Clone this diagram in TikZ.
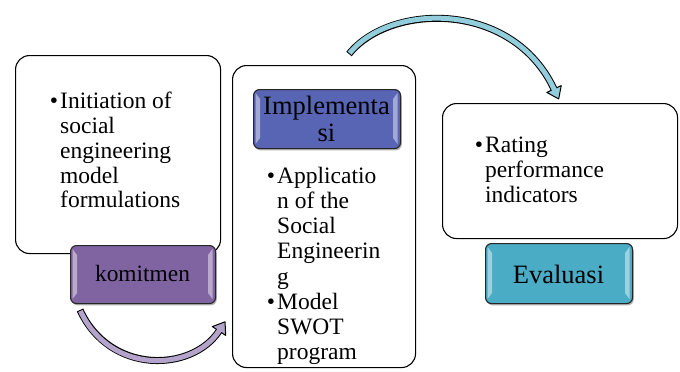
\documentclass[tikz,border=0pt]{standalone}
\usepackage{fontspec}
\setmainfont{Liberation Serif}
\usetikzlibrary{calc,shadows}
\definecolor{kom}{RGB}{128,100,162}
\definecolor{imp}{RGB}{88,100,180}
\definecolor{eva}{RGB}{75,172,198}
\definecolor{arrP}{RGB}{180,164,204}
\definecolor{arrB}{RGB}{146,205,220}
\tikzset{
  mainbox/.style={draw=black, line width=1.1pt, rounded corners=14pt, fill=white, inner sep=0pt, anchor=north west},
  lblbox/.style={draw=black!85, line width=1.1pt, rounded corners=6pt, inner sep=0pt, anchor=north west,
     drop shadow={shadow xshift=1.2pt, shadow yshift=-1.8pt, opacity=0.3, fill=black}},
  body/.style={font=\fontsize{23.5}{24.8}\selectfont, align=left, anchor=north west, inner sep=0pt},
  lbl/.style={font=\fontsize{26.5}{26.5}\selectfont, align=center, inner sep=0pt},
}
\newcommand{\hb}{\makebox[0pt][r]{\textbullet\hspace{2pt}}}
\newcommand{\bevel}[4]{% x0 y0 x1 y1
  \fill[white, opacity=0.45] (#1+2.5,#2+4) -- (#1+7,#2+10) -- (#1+7,#4-10) -- (#1+2.5,#4-4) -- cycle;
  \fill[white, opacity=0.45] (#3-2.5,#2+4) -- (#3-7,#2+10) -- (#3-7,#4-10) -- (#3-2.5,#4-4) -- cycle;
}
\newcommand{\bandarrow}[5]{%
  \draw[black, line width=7pt] (#1) .. controls (#2) and (#3) .. (#4);
  \coordinate (dirpt) at ($(#4)!-1!(#3)$);
  \coordinate (tippt) at ($(#4)!11pt!(dirpt)$);
  \coordinate (wlpt) at ($(#4)!8pt!90:(dirpt)$);
  \coordinate (wrpt) at ($(#4)!8pt!-90:(dirpt)$);
  \draw[black, line width=1pt, fill=#5, line join=round] (wlpt) -- (tippt) -- (wrpt) -- cycle;
  \draw[#5, line width=5pt, shorten <=1pt] (#1) .. controls (#2) and (#3) .. (#4) -- ($(#4)!2pt!(dirpt)$);
}
\begin{document}
\begin{tikzpicture}[x=1pt, y=-1pt]
\useasboundingbox (0,0) rectangle (680,372);

% main boxes
\node[mainbox, minimum width=205pt, minimum height=198pt] (b1) at (15,55) {};
\node[mainbox, minimum width=183pt, minimum height=302pt] (b2) at (232,65) {};
\node[mainbox, minimum width=235pt, minimum height=135pt] (b3) at (442,103) {};

% body texts
\node[body] (t1) at (60,90.5) {\hb\rule{0pt}{18pt}Initiation of\\social\\engineering\\model\\formulations};
\node[body, font=\fontsize{23.5}{25.2}\selectfont] (t2) at (277,165) {\hb\rule{0pt}{18pt}Applicatio\\n of the\\Social\\Engineerin\\g\\\hb Model\\SWOT\\program};
\node[body, font=\fontsize{23.5}{25}\selectfont] (t3) at (485,134.5) {\hb\rule{0pt}{18pt}Rating\\performance\\indicators};

% label boxes
\node[lblbox, fill=kom, minimum width=145pt, minimum height=58pt] (l1) at (70,245) {};
\bevel{70}{245}{215}{303}
\node[lbl, font=\fontsize{23.4}{24}\selectfont, anchor=base] (k1) at (142.5,281.7) {komitmen};

\node[lblbox, fill=imp, minimum width=147pt, minimum height=59pt] (l2) at (253,89) {};
\bevel{253}{89}{400}{148}
\node[lbl, anchor=north] (k2) at (326.5,95.7) {\rule{0pt}{19pt}Implementa\\si};

\node[lblbox, fill=eva, minimum width=147pt, minimum height=60pt] (l3) at (485,243) {};
\bevel{485}{243}{632}{303}
\node[lbl, anchor=base] (k3) at (558.5,283) {Evaluasi};

% curved arrows
\coordinate (pS) at (80,310);
\coordinate (pC1) at (110,375);
\coordinate (pC2) at (192,372);
\coordinate (pE) at (219,331);
\bandarrow{pS}{pC1}{pC2}{pE}{arrP}

\coordinate (qS) at (349,54);
\coordinate (qC1) at (390,3);
\coordinate (qC2) at (512,0);
\coordinate (qE) at (554,89);
\bandarrow{qS}{qC1}{qC2}{qE}{arrB}
\end{tikzpicture}
\end{document}
